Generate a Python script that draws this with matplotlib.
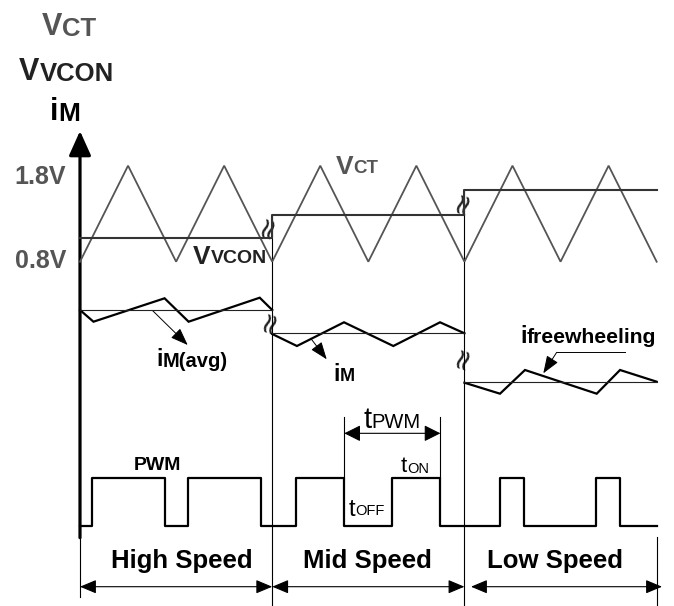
import matplotlib
matplotlib.use('Agg')
import matplotlib.pyplot as plt

plt.rcParams['font.family'] = ['Liberation Sans', 'DejaVu Sans']

# ---------------- data ----------------
regions = ['High Speed', 'Mid Speed', 'Low Speed']
region_edges = [0, 2, 4, 6]            # time in PWM periods

# carrier (triangle) V_CT
vct_t = [0, 0.5, 1, 1.5, 2, 2.5, 3, 3.5, 4, 4.5, 5, 5.5, 6]
vct_v = [0.8, 1.8, 0.8, 1.8, 0.8, 1.8, 0.8, 1.8, 0.8, 1.8, 0.8, 1.8, 0.8]

# control voltage V_VCON per region
vvcon_levels = [1.05, 1.29, 1.55]

# PWM (step-post)
pwm_t = [0, 0.12, 0.88, 1.12, 1.88, 2.25, 2.75, 3.25, 3.75, 4.37, 4.62, 5.37, 5.62, 6.0]
pwm_s = [0, 1, 0, 1, 0, 1, 0, 1, 0, 1, 0, 1, 0, 0]

# motor current per region
im_t_high = [0, 0.14, 0.88, 1.13, 1.87, 2.0]
im_high = [2.00, 1.883, 2.117, 1.883, 2.123, 2.00]
im_t_mid = [2.0, 2.257, 2.747, 3.26, 3.746, 4.0]
im_mid = [1.76, 1.64, 1.877, 1.64, 1.877, 1.767]
im_t_low = [4.0, 4.37, 4.63, 5.376, 5.619, 6.0]
im_low = [1.273, 1.163, 1.40, 1.163, 1.40, 1.283]
im_avg = [2.0, 1.767, 1.283]

# ---------------- layout ----------------
W, H = 674, 606
PX0, PXT = 80.0, 96.11           # pixel of t=0, pixels per period
T0, T1 = -PX0 / PXT, (W - PX0) / PXT


def tx(px):
    return (px - PX0) / PXT


fig = plt.figure(figsize=(W / 100, H / 100), dpi=100)


def mk(ylim):
    ax = fig.add_axes([0, 0, 1, 1])
    ax.set_xlim(T0, T1)
    ax.set_ylim(*ylim)
    ax.axis('off')
    ax.patch.set_alpha(0)
    return ax


axf = mk((H, 0))                 # frame, y in pixels
axv = mk((-2.7865, 3.526))       # volts
axi = mk((-0.96, 5.1))           # current
axp = mk((-1.677, 11.027))       # pwm level

GRAY = '#555555'
DARK = '#222222'

# ---- frame axes arrows ----
ax_y = 536.7
axf.annotate('', xy=(0, 131), xytext=(0, ax_y + 1),
             arrowprops=dict(arrowstyle='-|>,head_length=1.0,head_width=0.45',
                             mutation_scale=15, lw=2.3, color='k',
                             shrinkA=0, shrinkB=0))
axf.annotate('', xy=(tx(686), ax_y), xytext=(tx(78.5), ax_y),
             arrowprops=dict(arrowstyle='-|>,head_length=1.0,head_width=0.45',
                             mutation_scale=15, lw=2.3, color='k',
                             shrinkA=0, shrinkB=0))

# ---- boundaries ----
axf.plot([region_edges[0]] * 2, [ax_y, 597], color='k', lw=0.8)
axf.plot([region_edges[3]] * 2, [ax_y, 606], color='k', lw=0.8)
for k, te in enumerate(region_edges[1:3]):
    axv.plot([te, te], [vvcon_levels[k + 1], -2.7865], color='k', lw=0.8,
             clip_on=False)

# ---- region arrows & labels ----
ra_y = 586.7
arr_x = [(0, 2), (2, 4), (tx(471), tx(662))]
lab_x = [182, 367, 555]
for (a, b), lx, name in zip(arr_x, lab_x, regions):
    axf.annotate('', xy=(b, ra_y), xytext=(a, ra_y),
                 arrowprops=dict(arrowstyle='<|-|>,head_length=1.0,head_width=0.42',
                                 mutation_scale=10, lw=0.8, color='k',
                                 shrinkA=0, shrinkB=0))
    axf.text(tx(lx), 561, name, fontsize=18.5, fontweight='bold',
             ha='center', va='center', color='k')

# ---- V_CT and V_VCON ----
axv.plot(vct_t, vct_v, color=GRAY, lw=1.3, solid_joinstyle='miter')
vx, vy = [], []
for k, lvl in enumerate(vvcon_levels):
    vx += [region_edges[k], region_edges[k + 1]]
    vy += [lvl, lvl]
axv.plot(vx, vy, color='#333333', lw=1.5)

# ---- motor current ----
for ts, vs in [(im_t_high, im_high), (im_t_mid, im_mid), (im_t_low, im_low)]:
    axi.plot(ts, vs, color='k', lw=1.6, solid_joinstyle='miter')
for k, a in enumerate(im_avg):
    axi.plot([region_edges[k], region_edges[k + 1]], [a, a], color='#222222', lw=0.8)

# ---- PWM ----
axp.plot(pwm_t, pwm_s, drawstyle='steps-post', color='k', lw=1.6)

# tPWM dimension
for te in (pwm_t[6], pwm_t[8]):
    axp.plot([te, te], [1, 2.285], color='k', lw=0.8)
axp.annotate('', xy=(pwm_t[8], 1.943), xytext=(pwm_t[6], 1.943),
             arrowprops=dict(arrowstyle='<|-|>,head_length=1.0,head_width=0.5',
                             mutation_scale=10, lw=0.8, color='k',
                             shrinkA=0, shrinkB=0))

# ---- break marks ----
for bx, by in [(268, 226), (463, 202), (270, 321), (463, 357)]:
    axf.text(tx(bx), by, '\u2248', fontsize=21, rotation=72, ha='center',
             va='center', color='#222222', family=['DejaVu Sans'])

# ---- label arrows ----
def arrow(p0, p1, ms=9):
    axf.annotate('', xy=(tx(p1[0]), p1[1]), xytext=(tx(p0[0]), p0[1]),
                 arrowprops=dict(arrowstyle='-|>,head_length=1.2,head_width=0.45',
                                 mutation_scale=ms, lw=0.7, color='k',
                                 shrinkA=0, shrinkB=0))


arrow((152.7, 310.7), (187.7, 345))
arrow((310.7, 338.3), (326.7, 359.3))
axf.plot([tx(625), tx(556.7)], [352.3, 352.3], color='k', lw=0.7)
arrow((556.7, 352.3), (543.3, 373.3))

# ---- text helpers ----
DESC = 0.212


def combo(px, py, big, small, fb, fs, color='k', weight='bold'):
    t1 = axf.text(tx(px), py, big, fontsize=fb, color=color, fontweight=weight,
                  va='baseline', ha='left')
    axf.annotate(small, xy=(1, 0), xycoords=t1, xytext=(0, DESC * fb),
                 textcoords='offset points', fontsize=fs, color=color,
                 fontweight=weight, va='baseline', ha='left')


combo(42, 35, 'V', 'CT', 22, 18.5, GRAY)
combo(19, 80, 'V', 'VCON', 22, 18.5, DARK)
combo(50, 120, 'i', 'M', 22, 19, 'k')
combo(336, 174, 'V', 'CT', 19, 13.5, GRAY)
combo(193, 264, 'V', 'VCON', 19, 14, DARK)
combo(156.7, 366.5, 'i', 'M(avg)', 16.5, 14.5, 'k')
combo(333.3, 381, 'i', 'M', 16.5, 13, 'k')
combo(520.5, 343, 'i', 'freewheeling', 17, 15.2, 'k')
combo(363, 428.5, 't', 'PWM', 21, 14.5, 'k', 'normal')
combo(401, 472.5, 't', 'ON', 16, 10.5, 'k', 'normal')
combo(348.3, 515.5, 't', 'OFF', 17, 10.5, 'k', 'normal')

axf.text(tx(157), 466, 'PWM', fontsize=14, fontweight='bold', ha='center',
         va='center', color='k')
axf.text(tx(66), 176.7, '1.8V', fontsize=18, fontweight='bold', ha='right',
         va='center', color=GRAY)
axf.text(tx(66), 261, '0.8V', fontsize=18, fontweight='bold', ha='right',
         va='center', color=GRAY)

fig.savefig('out.png', dpi=100, facecolor='white')
